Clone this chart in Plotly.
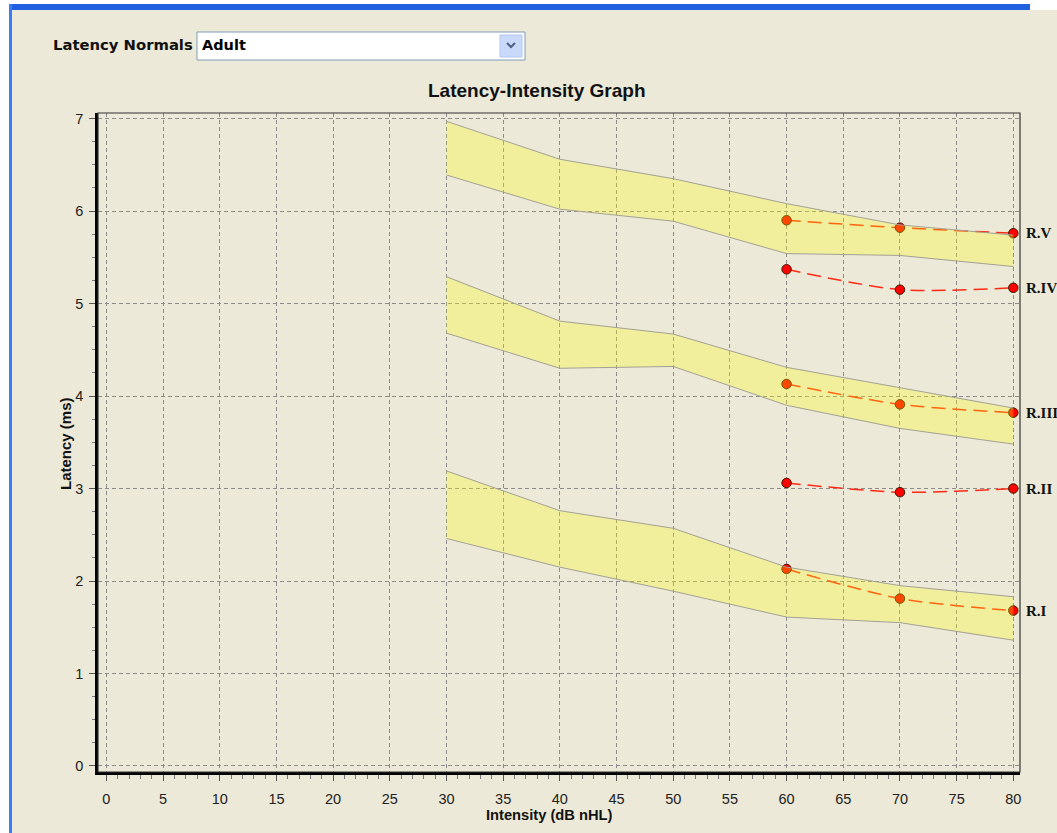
import plotly.graph_objects as go

# ---------------- data ----------------
band_x = [30, 40, 50, 60, 70, 80]
band_V_upper = [6.97, 6.56, 6.35, 6.08, 5.85, 5.74]
band_V_lower = [6.39, 6.02, 5.89, 5.54, 5.52, 5.40]
band_III_upper = [5.29, 4.81, 4.67, 4.31, 4.09, 3.87]
band_III_lower = [4.68, 4.30, 4.32, 3.90, 3.65, 3.48]
band_I_upper = [3.19, 2.76, 2.57, 2.15, 1.95, 1.83]
band_I_lower = [2.46, 2.15, 1.89, 1.61, 1.55, 1.36]

wave_x = [60, 70, 80]
wave_V = [5.90, 5.82, 5.76]
wave_IV = [5.37, 5.15, 5.17]
wave_III = [4.13, 3.91, 3.82]
wave_II = [3.06, 2.96, 3.00]
wave_I = [2.13, 1.81, 1.68]
wave_names = ["R.V", "R.IV", "R.III", "R.II", "R.I"]

x_ticks = list(range(0, 85, 5))
y_ticks = list(range(0, 8))

# ---------------- layout geometry ----------------
W, H = 1057, 833
L, R, T, B = 98, 37, 113, 61
PW, PH = W - L - R, H - T - B
BG = "#ECE9D8"


def px(p):
    return (p - L) / PW


def py(p):
    return (H - B - p) / PH


fig = go.Figure()

waves = [wave_V, wave_IV, wave_III, wave_II, wave_I]
for vals in waves:
    fig.add_trace(go.Scatter(
        x=wave_x, y=vals, mode="lines+markers",
        line=dict(color="#FF2A14", width=1.5, dash="14px,7px", shape="spline", smoothing=0.8),
        marker=dict(size=9.5, color="#FF0000", line=dict(color="#3A1A00", width=1)),
        hoverinfo="skip", showlegend=False))

bands = [(band_V_upper, band_V_lower), (band_III_upper, band_III_lower), (band_I_upper, band_I_lower)]
for up, lo in bands:
    fig.add_trace(go.Scatter(
        x=band_x + band_x[::-1], y=up + lo[::-1], mode="lines", fill="toself",
        fillcolor="rgba(255,255,0,0.28)", line=dict(width=0),
        hoverinfo="skip", showlegend=False))
    for edge in (up, lo):
        fig.add_trace(go.Scatter(
            x=band_x, y=edge, mode="lines", line=dict(color="#A3A194", width=1),
            hoverinfo="skip", showlegend=False))

annotations = []
for name, vals in zip(wave_names, waves):
    annotations.append(dict(
        x=wave_x[-1], y=vals[-1], xref="x", yref="y", text=name, showarrow=False,
        xanchor="left", yanchor="middle", xshift=11,
        font=dict(family="Liberation Serif", size=15, color="#111111", weight="bold")))

annotations += [
    dict(x=px(537), y=py(90), xref="paper", yref="paper", text="Latency-Intensity Graph",
         showarrow=False, xanchor="center", yanchor="middle",
         font=dict(family="Liberation Sans", size=19, color="#111111", weight="bold")),
    dict(x=px(549), y=py(815), xref="paper", yref="paper", text="Intensity (dB nHL)",
         showarrow=False, xanchor="center", yanchor="middle",
         font=dict(family="Liberation Sans", size=14.7, color="#111111", weight="bold")),
    dict(x=px(65), y=py(444), xref="paper", yref="paper", text="Latency (ms)", textangle=-90,
         showarrow=False, xanchor="center", yanchor="middle",
         font=dict(family="Liberation Sans", size=15, color="#111111", weight="bold")),
    dict(x=px(51), y=py(45), xref="paper", yref="paper", text="Latency Normals",
         showarrow=False, xanchor="left", yanchor="middle",
         font=dict(family="DejaVu Sans", size=14.8, color="#111111", weight="bold")),
    dict(x=px(200), y=py(45), xref="paper", yref="paper", text="Adult",
         showarrow=False, xanchor="left", yanchor="middle",
         font=dict(family="DejaVu Sans", size=14.5, color="#000000", weight="bold")),
]

shapes = [
    # window chrome
    dict(type="rect", xref="paper", yref="paper", x0=px(0), x1=px(W), y0=py(0), y1=py(4),
         fillcolor="#FFFFFF", line=dict(width=0), layer="below"),
    dict(type="rect", xref="paper", yref="paper", x0=px(0), x1=px(9), y0=py(0), y1=py(H),
         fillcolor="#FFFFFF", line=dict(width=0), layer="below"),
    dict(type="rect", xref="paper", yref="paper", x0=px(9), x1=px(1030), y0=py(4), y1=py(10),
         fillcolor="#1F5FE0", line=dict(width=0), layer="below"),
    dict(type="rect", xref="paper", yref="paper", x0=px(1030), x1=px(W), y0=py(4), y1=py(10),
         fillcolor="#FFFFFF", line=dict(width=0), layer="below"),
    dict(type="rect", xref="paper", yref="paper", x0=px(9), x1=px(12), y0=py(4), y1=py(H),
         fillcolor="#3D7BF2", line=dict(width=0), layer="below"),
    # combo box
    dict(type="rect", xref="paper", yref="paper", x0=px(197), x1=px(525), y0=py(32), y1=py(60),
         fillcolor="#FFFFFF", line=dict(color="#7F9DB9", width=1)),
    dict(type="rect", xref="paper", yref="paper", x0=px(500), x1=px(522), y0=py(35), y1=py(57),
         fillcolor="#C9D9FB", line=dict(color="#B4C8F2", width=1)),
    dict(type="path", xref="paper", yref="paper",
         path=f"M {px(507)},{py(43)} L {px(511)},{py(47)} L {px(515)},{py(43)}",
         line=dict(color="#4D6185", width=2)),
    # plot frame (top / right)
    dict(type="rect", xref="paper", yref="paper", x0=0, x1=1, y0=0, y1=1,
         line=dict(color="#333333", width=1.2), layer="above"),
]

grid = dict(showgrid=True, gridcolor="#8C8C8C", gridwidth=1, griddash="4px,3px", zeroline=False)

fig.update_layout(
    width=W, height=H,
    margin=dict(l=L, r=R, t=T, b=B, autoexpand=False),
    paper_bgcolor=BG, plot_bgcolor=BG,
    showlegend=False,
    annotations=annotations, shapes=shapes,
    xaxis=dict(range=[-0.74, 80.59], tickmode="array", tickvals=x_ticks,
               ticktext=[str(v) for v in x_ticks],
               ticks="outside", ticklen=6, tickcolor="#555555", ticklabelstandoff=6,
               tickfont=dict(family="Liberation Sans", size=14.5, color="#222222"),
               showline=True, linecolor="#000000", linewidth=3,
               minor=dict(dtick=1, ticks="outside", ticklen=4, tickcolor="#777777", showgrid=False),
               **grid),
    yaxis=dict(range=[-0.065, 7.06], tickmode="array", tickvals=y_ticks,
               ticktext=[str(v) for v in y_ticks],
               ticks="outside", ticklen=6, tickcolor="#555555", ticklabelstandoff=3,
               tickfont=dict(family="Liberation Sans", size=14.5, color="#222222"),
               showline=True, linecolor="#000000", linewidth=2.5,
               minor=dict(dtick=0.25, ticks="outside", ticklen=3, tickcolor="#777777", showgrid=False),
               **grid),
)

fig.write_html("out.html", config={"displayModeBar": False},
               post_script="document.body.style.margin='0';document.body.style.overflow='hidden';")
